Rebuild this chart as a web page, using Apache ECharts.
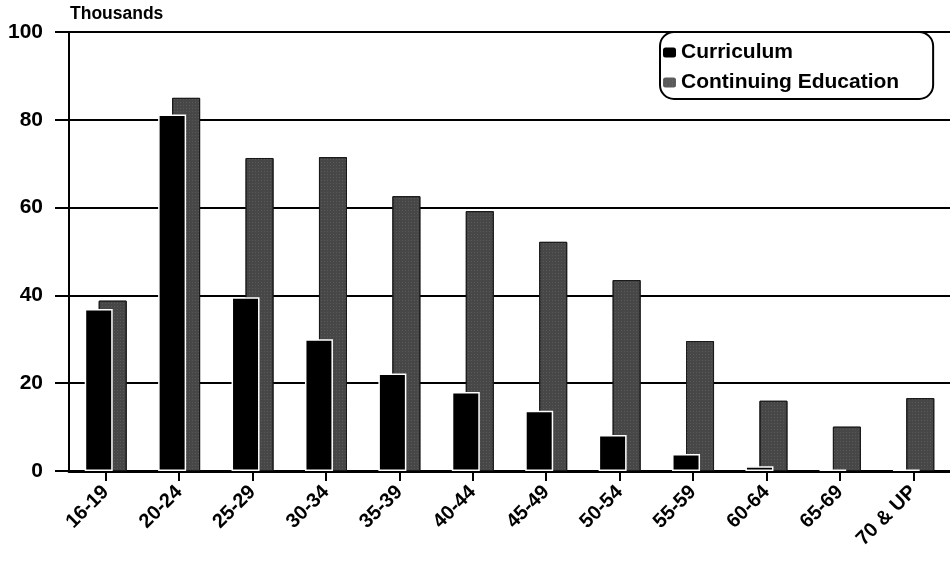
<!DOCTYPE html>
<html>
<head>
<meta charset="utf-8">
<script src="https://cdn.jsdelivr.net/npm/echarts@6/dist/echarts.min.js"></script>
<style>
  html, body { margin: 0; padding: 0; background: #fff; }
  #chart { width: 950px; height: 561px; }
</style>
</head>
<body>
<div id="chart"></div>
<script>
// Enrollment by age group, in thousands
const ageGroups = ['16-19', '20-24', '25-29', '30-34', '35-39', '40-44', '45-49', '50-54', '55-59', '60-64', '65-69', '70 & UP'];
const curriculum = [36.9, 81.2, 39.6, 30.0, 22.2, 18.0, 13.7, 8.2, 3.9, 1.1, 0.3, 0.3];
const continuingEd = [38.8, 85.0, 71.3, 71.5, 62.6, 59.2, 52.2, 43.5, 29.6, 16.0, 10.1, 16.6];
const yTicks = { min: 0, max: 100, step: 20 };

const chart = echarts.init(document.getElementById('chart'), null, { renderer: 'canvas' });

const boldFont = { fontFamily: 'Liberation Sans, Arial, sans-serif', fontWeight: 'bold', color: '#000' };

chart.setOption({
  animation: false,
  backgroundColor: '#fff',
  grid: { left: 69, right: -9, top: 32, bottom: 90, containLabel: false },
  legend: {
    orient: 'vertical',
    left: 660,
    top: 32,
    padding: [10, 34, 6, 3],
    itemWidth: 13,
    itemHeight: 10,
    itemGap: 9,
    borderColor: '#000',
    borderWidth: 2,
    borderRadius: 14,
    backgroundColor: '#fff',
    textStyle: Object.assign({ fontSize: 21, padding: [0, 0, 0, 0] }, boldFont),
    data: [
      { name: 'Curriculum', itemStyle: { color: '#000', borderWidth: 0 } },
      { name: 'Continuing Education', itemStyle: { color: '#5a5a5a', borderWidth: 0 } }
    ]
  },
  xAxis: {
    type: 'category',
    data: ageGroups,
    boundaryGap: true,
    axisLine: { show: true, lineStyle: { color: '#000', width: 3 } },
    axisTick: { show: true, alignWithLabel: true, length: 10, lineStyle: { color: '#000', width: 2 } },
    axisLabel: Object.assign({ rotate: 45, fontSize: 20, margin: 18, interval: 0 }, boldFont),
    splitLine: { show: false }
  },
  yAxis: {
    type: 'value',
    min: yTicks.min,
    max: yTicks.max,
    interval: yTicks.step,
    name: 'Thousands',
    nameLocation: 'end',
    nameGap: 9,
    nameTextStyle: Object.assign({ fontSize: 17.5, align: 'left', padding: [0, 0, 0, 1] }, boldFont),
    axisLine: { show: true, lineStyle: { color: '#000', width: 2 } },
    axisTick: { show: true, length: 14, lineStyle: { color: '#000', width: 2 } },
    axisLabel: Object.assign({ fontSize: 21, margin: 26 }, boldFont),
    splitLine: { show: true, lineStyle: { color: '#000', width: 2 } }
  },
  series: [
    {
      name: 'Curriculum',
      type: 'bar',
      data: curriculum,
      barWidth: 28,
      barGap: '-50%',
      z: 3,
      itemStyle: { color: '#000', borderColor: '#fff', borderWidth: 1.5 }
    },
    {
      name: 'Continuing Education',
      type: 'bar',
      data: continuingEd,
      barWidth: 28,
      z: 2,
      itemStyle: {
        color: '#474747',
        borderColor: '#1a1a1a',
        borderWidth: 1,
        decal: {
          symbol: 'rect',
          symbolSize: 0.6,
          color: 'rgba(255,255,255,0.35)',
          dashArrayX: [[1, 2]],
          dashArrayY: [1, 2],
          rotation: 0
        }
      }
    }
  ]
});
</script>
</body>
</html>
